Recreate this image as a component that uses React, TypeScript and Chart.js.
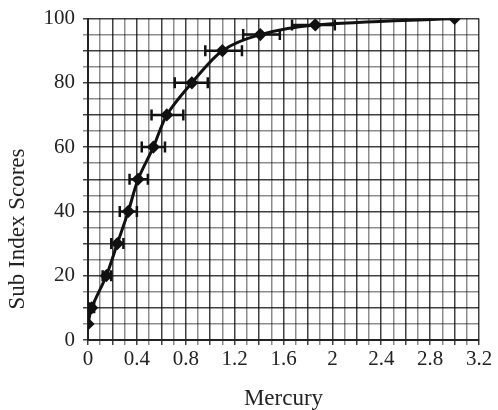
import React, { useEffect, useRef } from "react";
import { Chart, registerables } from "chart.js";
Chart.register(...registerables);

const mercury = [0, 0.03, 0.15, 0.24, 0.33, 0.41, 0.535, 0.645, 0.85, 1.1, 1.41, 1.86, 3.0];
const subIndex = [5, 10, 20, 30, 40, 50, 60, 70, 80, 90, 95, 98, 100];
const errLow = [0, 0.01, 0.12, 0.19, 0.26, 0.34, 0.44, 0.52, 0.71, 0.96, 1.27, 1.67, 3.0];
const errHigh = [0, 0.05, 0.19, 0.29, 0.4, 0.49, 0.63, 0.78, 0.98, 1.26, 1.57, 2.02, 3.0];
const xTickLabels = ["0", "0.4", "0.8", "1.2", "1.6", "2", "2.4", "2.8", "3.2"];
const yTickLabels = ["0", "20", "40", "60", "80", "100"];
const xTitle = "Mercury";
const yTitle = "Sub Index Scores";

const FONT = "'Liberation Serif', 'Times New Roman', serif";

const errorBarPlugin = {
  id: "errorBars",
  afterDatasetsDraw(chart: any) {
    const ctx = chart.ctx;
    const xs = chart.scales.x;
    const ys = chart.scales.y;
    ctx.save();
    ctx.strokeStyle = "#111";
    ctx.lineWidth = 2.5;
    for (let i = 0; i < mercury.length; i++) {
      if (errHigh[i] - errLow[i] <= 0) continue;
      const y = ys.getPixelForValue(subIndex[i]);
      const x1 = xs.getPixelForValue(errLow[i]);
      const x2 = xs.getPixelForValue(errHigh[i]);
      ctx.beginPath();
      ctx.moveTo(x1, y);
      ctx.lineTo(x2, y);
      ctx.moveTo(x1, y - 5.5);
      ctx.lineTo(x1, y + 5.5);
      ctx.moveTo(x2, y - 5.5);
      ctx.lineTo(x2, y + 5.5);
      ctx.stroke();
    }
    ctx.restore();
  },
};

const yTitlePlugin = {
  id: "yTitle",
  afterDraw(chart: any) {
    const ctx = chart.ctx;
    ctx.save();
    ctx.translate(18, 229);
    ctx.rotate(-Math.PI / 2);
    ctx.fillStyle = "#222";
    ctx.font = `23px ${FONT}`;
    ctx.textAlign = "center";
    ctx.textBaseline = "middle";
    ctx.fillText(yTitle, 0, 0);
    ctx.restore();
  },
};

export default function App() {
  const ref = useRef<HTMLCanvasElement>(null);
  useEffect(() => {
    document.body.style.margin = "0";
    const chart = new Chart(ref.current!, {
      type: "line",
      data: {
        datasets: [
          {
            data: mercury.map((x, i) => ({ x, y: subIndex[i] })),
            borderColor: "#111",
            borderWidth: 3,
            tension: 0.3,
            pointStyle: "rectRot",
            pointRadius: 4.5,
            pointBackgroundColor: "#111",
            pointBorderColor: "#111",
            fill: false,
          },
        ],
      },
      options: {
        animation: false,
        responsive: false,
        layout: { padding: { top: 9, right: 19, left: 0, bottom: 0 } },
        plugins: { legend: { display: false }, tooltip: { enabled: false } },
        scales: {
          x: {
            type: "linear",
            min: 0,
            max: 3.2,
            afterFit: (s: any) => {
              s.height = 70;
            },
            afterBuildTicks: (s: any) => {
              const t = [];
              for (let i = 0; i <= 32; i++) t.push({ value: i / 10 });
              s.ticks = t;
            },
            ticks: {
              autoSkip: false,
              maxRotation: 0,
              color: "#222",
              font: { family: FONT, size: 21, lineHeight: 1.0 },
              padding: 4,
              callback: (v: any, i: number) => (i % 4 === 0 ? xTickLabels[i / 4] : ""),
            },
            grid: {
              color: (c: any) => (c.index % 2 === 0 ? "rgba(0,0,0,0.75)" : "rgba(0,0,0,0.45)"),
              lineWidth: 1.5,
              tickLength: 5,
            },
            border: { color: "#222", width: 2 },
            title: {
              display: true,
              text: xTitle,
              color: "#222",
              font: { family: FONT, size: 23, lineHeight: 1.0 },
              padding: { top: 0, bottom: 0 },
            },
          },
          y: {
            type: "linear",
            min: 0,
            max: 100,
            afterFit: (s: any) => {
              s.width = 88;
            },
            afterBuildTicks: (s: any) => {
              const t = [];
              for (let i = 0; i <= 20; i++) t.push({ value: i * 5 });
              s.ticks = t;
            },
            ticks: {
              autoSkip: false,
              color: "#222",
              font: { family: FONT, size: 21, lineHeight: 1.0 },
              padding: 8,
              callback: (v: any, i: number) => (i % 4 === 0 ? yTickLabels[i / 4] : ""),
            },
            grid: {
              color: (c: any) => (c.index % 2 === 0 ? "rgba(0,0,0,0.75)" : "rgba(0,0,0,0.45)"),
              lineWidth: 1.5,
              tickLength: 5,
            },
            border: { color: "#222", width: 2 },
            title: { display: false },
          },
        },
      },
      plugins: [errorBarPlugin, yTitlePlugin],
    });
    return () => chart.destroy();
  }, []);
  return (
    <div style={{ width: 498, height: 410, background: "#fff" }}>
      <canvas ref={ref} width={498} height={410} style={{ display: "block" }} />
    </div>
  );
}
